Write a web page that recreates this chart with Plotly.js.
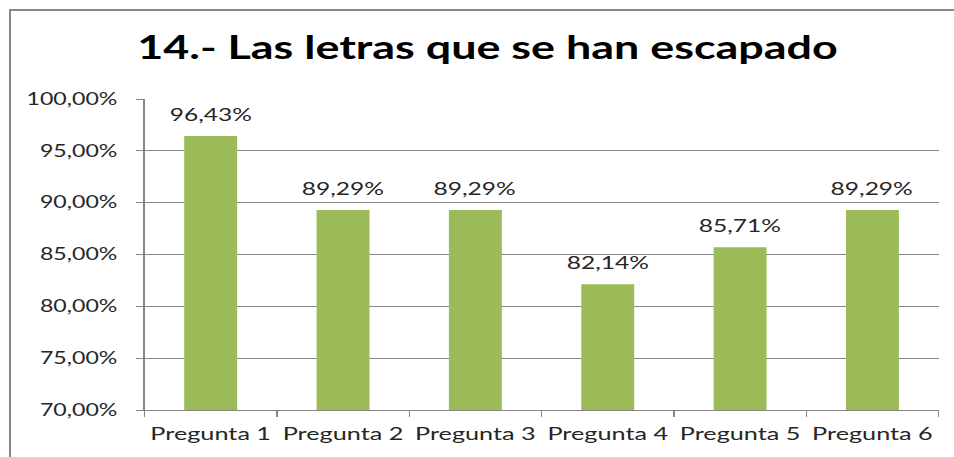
<!DOCTYPE html>
<html>
<head>
<meta charset="utf-8">
<script src="https://cdn.plot.ly/plotly-3.0.1.min.js"></script>
<style>
html,body{margin:0;padding:0;background:#fff;overflow:hidden;}
#frame{position:absolute;left:9px;top:9px;width:1200px;height:800px;border-left:2px solid #878787;border-top:2px solid #878787;}
#chart{position:absolute;left:0;top:0;width:680px;height:457px;transform-origin:0 0;transform:scaleX(1.403);}
</style>
</head>
<body>
<div id="frame"></div>
<div id="chart"></div>
<script>
const categories = ["Pregunta 1","Pregunta 2","Pregunta 3","Pregunta 4","Pregunta 5","Pregunta 6"];
const values = [0.9643, 0.8929, 0.8929, 0.8214, 0.8571, 0.8929];
const titleText = "14.- Las letras que se han escapado";
const FONT = "Lato, 'Open Sans', sans-serif";

const trace = {
  type: "bar",
  x: categories,
  y: values,
  marker: {color: "#9BBB59"},
  hoverinfo: "skip"
};

const fmt = v => (v*100).toFixed(2).replace(".", ",") + "%";
const annotations = categories.map((c, i) => ({
  x: c, y: values[i], xref: "x", yref: "y",
  text: fmt(values[i]),
  showarrow: false, yanchor: "bottom", yshift: 9,
  font: {family: FONT, size: 17.5, color: "#262626"}
}));

const layout = {
  width: 680, height: 457,
  margin: {l: 102.6, r: 10.7, t: 99, b: 47, pad: 0},
  paper_bgcolor: "rgba(0,0,0,0)",
  plot_bgcolor: "rgba(0,0,0,0)",
  separators: ",.",
  bargap: 0.6,
  showlegend: false,
  title: {
    text: "<b>" + titleText + "</b>",
    font: {family: FONT, size: 32, color: "#000"},
    x: 0.511, xanchor: "center", y: 0.895, yanchor: "middle", xref: "container", yref: "container"
  },
  xaxis: {
    type: "category",
    showgrid: false,
    showline: true, linecolor: "#868686", linewidth: 1,
    ticks: "outside", ticklen: 6, tickcolor: "#868686", tickson: "boundaries",
    tickangle: 0,
    ticklabelstandoff: 7,
    tickfont: {family: FONT, size: 18, color: "#262626"},
    fixedrange: true
  },
  yaxis: {
    range: [0.70, 1.00],
    dtick: 0.05, tick0: 0.70,
    tickformat: ".2%",
    showgrid: true, gridcolor: "#868686", gridwidth: 1,
    showline: true, linecolor: "#868686", linewidth: 1,
    ticks: "outside", ticklen: 5, tickcolor: "#868686",
    ticklabelstandoff: 10,
    tickfont: {family: FONT, size: 16.5, color: "#262626"},
    zeroline: false,
    fixedrange: true
  },
  annotations: annotations
};

Plotly.newPlot("chart", [trace], layout, {displayModeBar: false, staticPlot: true});
</script>
</body>
</html>
